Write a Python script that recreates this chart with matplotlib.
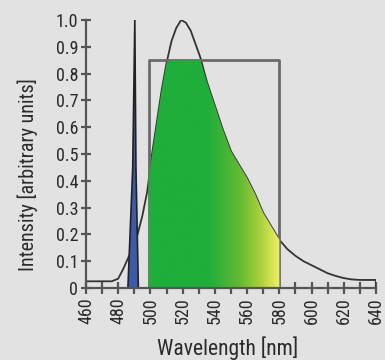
import numpy as np
import matplotlib
matplotlib.use('Agg')
from matplotlib import pyplot as plt
from matplotlib.colors import LinearSegmentedColormap

plt.rcParams['font.family'] = ['Roboto Condensed', 'Liberation Sans Narrow', 'DejaVu Sans']
plt.rcParams['font.stretch'] = 'condensed'

# emission curve (black line)
curve_wl = [460, 470, 476, 480, 483, 486, 489, 492, 495, 498, 501, 504, 507, 510,
            513, 516, 519, 522, 525, 528, 531, 535, 540, 545, 550, 555, 560, 565,
            570, 575, 580, 585, 590, 595, 600, 605, 610, 615, 620, 625, 630, 635,
            640, 640]
curve_int = [0.025, 0.025, 0.025, 0.035, 0.07, 0.11, 0.15, 0.2, 0.27, 0.36, 0.5,
             0.62, 0.74, 0.84, 0.92, 0.97, 1.0, 0.99, 0.96, 0.91, 0.86, 0.77, 0.68,
             0.59, 0.51, 0.46, 0.41, 0.35, 0.28, 0.23, 0.18, 0.145, 0.12, 0.10,
             0.085, 0.07, 0.055, 0.045, 0.037, 0.032, 0.03, 0.03, 0.03, 0.0]

# blue laser spike
spike_wl = [486, 489, 490.3, 491, 492.5]
spike_int = [0, 0.45, 1.0, 0.45, 0]

# detection window (gray box) and green band
win_lo, win_hi, win_top = 499, 580, 0.85

grad_colors = ['#1fae3a', '#1fae3a', '#5fb833', '#a9cf3c', '#f2f065']
grad_stops = [0.0, 0.45, 0.68, 0.85, 1.0]

bg = '#e2e2e2'
fig = plt.figure(figsize=(3.85, 3.6), dpi=100, facecolor=bg)
ax = fig.add_axes([0.2234, 0.2, 0.7532, 0.7444], facecolor=bg)

wl = np.array(curve_wl, dtype=float)
it = np.array(curve_int, dtype=float)

ax.plot(wl, it, color='#333333', lw=1.3, zorder=2)

# window box
ax.plot([win_lo, win_lo, win_hi, win_hi], [0, win_top, win_top, 0],
        color='#6a6a6a', lw=2, zorder=3)

# green band: curve clipped at window top, gradient fill
m = (wl >= win_lo) & (wl <= win_hi)
xs = np.concatenate([[win_lo], wl[m], [win_hi]])
ys = np.concatenate([[np.interp(win_lo, wl[:-1], it[:-1])], it[m], [np.interp(win_hi, wl[:-1], it[:-1])]])
ys = np.minimum(ys, win_top)
poly = ax.fill_between(xs, 0, ys, facecolor='none', edgecolor='none', zorder=4)
cmap = LinearSegmentedColormap.from_list('gy', list(zip(grad_stops, grad_colors)))
grad = np.linspace(0, 1, 256).reshape(1, -1)
im = ax.imshow(grad, cmap=cmap, aspect='auto', extent=[win_lo, win_hi, 0, win_top],
               zorder=4, interpolation='bilinear')
im.set_clip_path(poly.get_paths()[0], transform=ax.transData)

# blue spike
ax.fill(spike_wl, spike_int, facecolor='#3d5aa8', edgecolor='#222222', lw=1.2, zorder=5)

ax.set_xlim(460, 640)
ax.set_ylim(0, 1.0)
ax.spines['top'].set_visible(False)
ax.spines['right'].set_visible(False)
for s in ['left', 'bottom']:
    ax.spines[s].set_color('#555555')
    ax.spines[s].set_linewidth(1.6)
    ax.spines[s].set_zorder(6)

ax.set_xticks(np.arange(460, 641, 20))
ax.set_xticks(np.arange(460, 641, 10), minor=True)
ax.set_xticklabels([str(v) for v in range(460, 641, 20)], rotation=90)
ax.set_yticks(np.arange(0, 1.01, 0.1))
ax.set_yticklabels(['0'] + ['%.1f' % v for v in np.arange(0.1, 1.01, 0.1)])
ax.tick_params(axis='both', which='both', direction='inout', color='#555555',
               width=1.6, labelsize=13, labelcolor='#2a2a2a')
ax.tick_params(axis='x', which='both', length=8, pad=3)
ax.tick_params(axis='y', length=7, pad=2)

ax.set_xlabel('Wavelength [nm]', fontsize=15.5, color='#2a2a2a', va='baseline')
ax.set_ylabel('Intensity [arbitrary units]', fontsize=14.5, color='#2a2a2a')
ax.xaxis.set_label_coords(0.488, -0.25)
ax.yaxis.set_label_coords(-0.165, 0.425)

fig.savefig('out.png', dpi=100, facecolor=bg)
